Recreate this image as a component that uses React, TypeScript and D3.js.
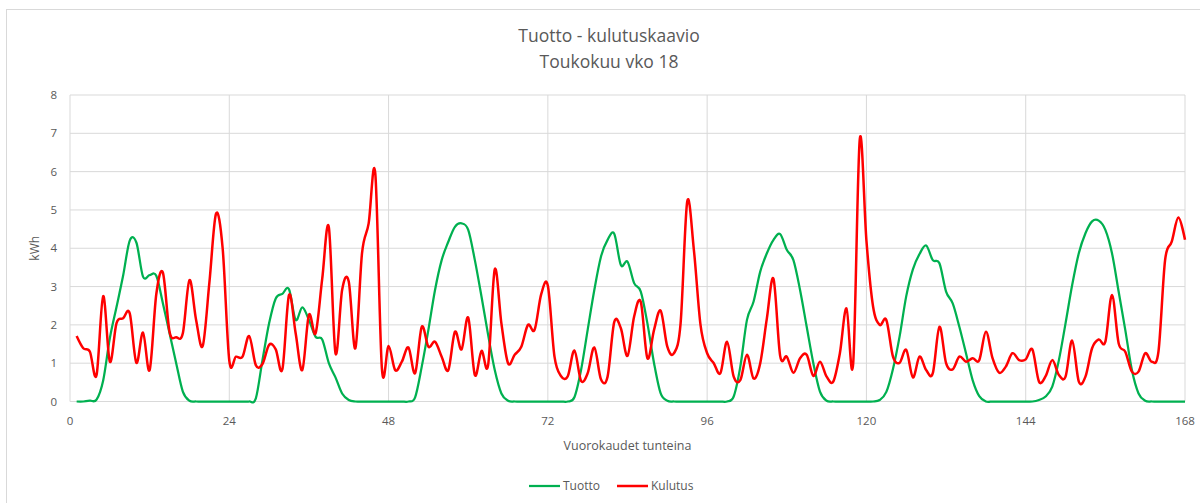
import React from 'react';
import * as d3 from 'd3';

// hourly values, hours 1..168 (one row per day)
const kulutus = [
  1.71, 1.39, 1.3, 0.69, 2.75, 1.04, 2.04, 2.17, 2.3, 1.01, 1.8, 0.82, 2.8, 3.36, 1.82, 1.68, 1.78, 3.17, 2.13, 1.45, 3.1, 4.9, 4.0, 1.07,
  1.17, 1.17, 1.71, 0.95, 0.98, 1.48, 1.36, 0.84, 2.78, 1.78, 0.82, 2.26, 1.78, 3.2, 4.55, 1.26, 2.91, 3.13, 1.39, 3.87, 4.65, 5.95, 0.85, 1.45,
  0.82, 1.04, 1.41, 0.74, 1.95, 1.43, 1.56, 1.17, 0.82, 1.82, 1.36, 2.19, 0.69, 1.32, 0.95, 3.45, 2.04, 1.0, 1.22, 1.43, 2.0, 1.87, 2.8, 3.02,
  1.17, 0.66, 0.66, 1.33, 0.54, 0.74, 1.41, 0.58, 0.65, 2.07, 1.91, 1.19, 2.22, 2.6, 1.13, 1.87, 2.37, 1.43, 1.26, 2.04, 5.22, 3.96, 2.0, 1.26,
  1.0, 0.74, 1.56, 0.65, 0.56, 1.22, 0.6, 1.0, 2.17, 3.2, 1.19, 1.17, 0.75, 1.13, 1.22, 0.67, 1.04, 0.65, 0.52, 1.26, 2.43, 0.98, 6.85, 4.2,
  2.48, 2.0, 2.13, 1.17, 1.01, 1.35, 0.63, 1.17, 0.82, 0.74, 1.95, 1.0, 0.84, 1.17, 1.04, 1.13, 1.08, 1.82, 1.13, 0.75, 0.91, 1.26, 1.08, 1.1,
  1.36, 0.52, 0.66, 1.08, 0.69, 0.65, 1.59, 0.52, 0.65, 1.39, 1.62, 1.56, 2.78, 1.52, 1.3, 0.78, 0.78, 1.26, 1.04, 1.3, 3.69, 4.17, 4.8, 4.22,
];

const tuotto = [
  0, 0, 0.02, 0.05, 0.55, 1.65, 2.46, 3.28, 4.2, 4.15, 3.26, 3.3, 3.28, 2.56, 1.78, 1.0, 0.26, 0.02, 0, 0, 0, 0, 0, 0,
  0, 0, 0, 0.08, 1.08, 2.04, 2.69, 2.81, 2.93, 2.13, 2.46, 2.13, 1.69, 1.62, 1.0, 0.63, 0.21, 0.04, 0, 0, 0, 0, 0, 0,
  0, 0, 0, 0.11, 0.91, 1.87, 2.91, 3.69, 4.17, 4.56, 4.65, 4.48, 3.69, 2.74, 1.74, 0.82, 0.21, 0.02, 0, 0, 0, 0, 0, 0,
  0, 0, 0, 0.11, 0.82, 1.87, 2.91, 3.78, 4.22, 4.38, 3.56, 3.65, 3.09, 2.87, 2.04, 1.0, 0.21, 0.02, 0, 0, 0, 0, 0, 0,
  0, 0, 0, 0.13, 0.91, 2.13, 2.61, 3.39, 3.87, 4.22, 4.37, 3.96, 3.69, 2.91, 1.95, 1.0, 0.26, 0.02, 0, 0, 0, 0, 0, 0,
  0, 0.04, 0.25, 0.85, 1.7, 2.75, 3.45, 3.85, 4.07, 3.69, 3.61, 2.87, 2.56, 1.95, 1.26, 0.56, 0.14, 0, 0, 0, 0, 0, 0, 0,
  0, 0.04, 0.13, 0.39, 1.08, 2.04, 3.04, 3.87, 4.39, 4.7, 4.72, 4.48, 3.87, 2.87, 1.87, 0.82, 0.21, 0.02, 0, 0, 0, 0, 0, 0,
];

const xTicks = [0, 24, 48, 72, 96, 120, 144, 168];
const yTicks = [0, 1, 2, 3, 4, 5, 6, 7, 8];

const font = '"Open Sans", "Noto Sans", sans-serif';
const textColor = '#595959';
const gridColor = '#d9d9d9';

const App = () => {
  const width = 1200;
  const height = 503;

  const x = d3.scaleLinear().domain([0, 168]).range([70, 1185]);
  const y = d3.scaleLinear().domain([0, 8]).range([401.5, 95]);

  const line = d3
    .line<number>()
    .x((d, i) => x(i + 1))
    .y((d) => y(d))
    .curve(d3.curveCardinal.tension(0));

  return (
    <svg
      width={width}
      height={height}
      style={{ position: 'absolute', left: 0, top: 0, background: '#fff' }}
      fontFamily={font}
    >
      <rect x={6.5} y={9.5} width={1200} height={510} fill="#fff" stroke={gridColor} />

      {/* title */}
      <text x={609} y={42} textAnchor="middle" fontSize={17.5} fill={textColor}>
        Tuotto - kulutuskaavio
      </text>
      <text x={609} y={68} textAnchor="middle" fontSize={17.5} fill={textColor}>
        Toukokuu vko 18
      </text>

      {/* grid */}
      {yTicks.map((t) => (
        <line key={'gy' + t} x1={x(0)} x2={x(168)} y1={y(t)} y2={y(t)} stroke={gridColor} strokeWidth={1} />
      ))}
      {xTicks.map((t) => (
        <line key={'gx' + t} x1={x(t)} x2={x(t)} y1={y(0)} y2={y(8)} stroke={gridColor} strokeWidth={1} />
      ))}

      {/* y ticks */}
      {yTicks.map((t) => (
        <text key={'ty' + t} x={57} y={y(t) + 4} textAnchor="end" fontSize={11.5} fill={textColor}>
          {t}
        </text>
      ))}
      {/* x ticks */}
      {xTicks.map((t) => (
        <text key={'tx' + t} x={x(t)} y={425} textAnchor="middle" fontSize={11.5} fill={textColor}>
          {t}
        </text>
      ))}

      <text
        transform={`translate(39, ${(y(0) + y(8)) / 2}) rotate(-90)`}
        textAnchor="middle"
        fontSize={12}
        fill={textColor}
      >
        kWh
      </text>
      <text x={(x(0) + x(168)) / 2} y={450} textAnchor="middle" fontSize={12.5} fill={textColor}>
        Vuorokaudet tunteina
      </text>

      {/* series */}
      <path d={line(tuotto) || ''} fill="none" stroke="#00b050" strokeWidth={2.25} strokeLinejoin="round" />
      <path d={line(kulutus) || ''} fill="none" stroke="#ff0000" strokeWidth={2.5} strokeLinejoin="round" />

      {/* legend */}
      <line x1={529} x2={560} y1={486} y2={486} stroke="#00b050" strokeWidth={2.25} />
      <text x={563} y={490} fontSize={12} fill={textColor}>
        Tuotto
      </text>
      <line x1={617} x2={648} y1={486} y2={486} stroke="#ff0000" strokeWidth={2.5} />
      <text x={651} y={490} fontSize={12} fill={textColor}>
        Kulutus
      </text>
    </svg>
  );
};

export default App;
